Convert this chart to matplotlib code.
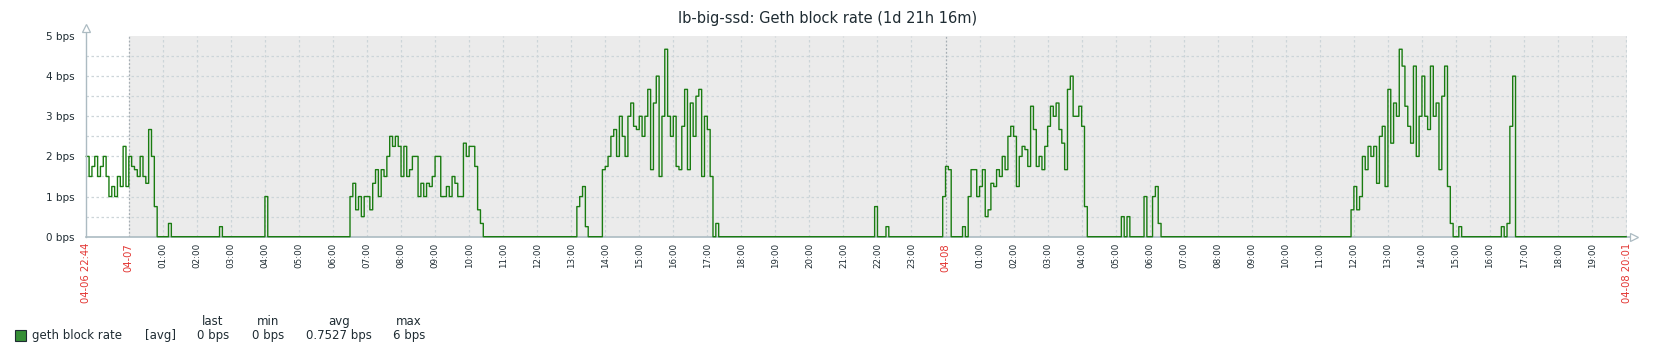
import numpy as np
import pandas as pd
import matplotlib
matplotlib.use('Agg')
from matplotlib import pyplot as plt
from matplotlib.patches import Rectangle

# geth block rate, 5 minute steps, one line per clock hour
rate_apr06 = [
    2.0, 1.5, 1.75,                                                  # 22:45-22:55
    2.0, 1.5, 1.75, 2.0, 1.5, 1.0, 1.25, 1.0, 1.5, 1.25, 2.25, 1.25,  # 23
]
rate_apr07 = [
    2.0, 1.75, 1.67, 1.5, 2.0, 1.5, 1.33, 2.67, 2.0, 0.75, 0, 0,      # 00
    0, 0, 0.33, 0, 0, 0, 0, 0, 0, 0, 0, 0,                           # 01
    0, 0, 0, 0, 0, 0, 0, 0, 0.25, 0, 0, 0,                           # 02
    0, 0, 0, 0, 0, 0, 0, 0, 0, 0, 0, 0,                              # 03
    1.0, 0, 0, 0, 0, 0, 0, 0, 0, 0, 0, 0,                            # 04
    0, 0, 0, 0, 0, 0, 0, 0, 0, 0, 0, 0,                              # 05
    0, 0, 0, 0, 0, 0, 1.0, 1.33, 0.67, 1.0, 0.5, 1.0,                # 06
    1.0, 0.67, 1.33, 1.67, 1.0, 1.67, 1.5, 2.0, 2.5, 2.25, 2.5, 2.25,  # 07
    1.5, 2.25, 1.5, 1.67, 2.0, 2.0, 1.0, 1.33, 1.0, 1.33, 1.25, 1.5,   # 08
    2.0, 2.0, 1.0, 1.0, 1.25, 1.0, 1.5, 1.33, 1.0, 1.0, 2.33, 2.0,     # 09
    2.25, 2.25, 1.75, 0.67, 0.33, 0, 0, 0, 0, 0, 0, 0,               # 10
    0, 0, 0, 0, 0, 0, 0, 0, 0, 0, 0, 0,                              # 11
    0, 0, 0, 0, 0, 0, 0, 0, 0, 0, 0, 0,                              # 12
    0, 0, 0.75, 1.0, 1.25, 0.25, 0, 0, 0, 0, 0, 1.67,                # 13
    1.75, 2.0, 2.5, 2.67, 2.0, 3.0, 2.5, 2.0, 3.0, 3.33, 2.75, 2.67,   # 14
    3.0, 2.5, 3.0, 3.67, 1.67, 3.33, 4.0, 1.5, 3.0, 4.67, 3.0, 2.5,    # 15
    3.0, 1.75, 1.67, 2.75, 3.67, 1.67, 3.33, 2.5, 3.5, 3.67, 1.5, 3.0,  # 16
    2.67, 1.5, 0, 0.33, 0, 0, 0, 0, 0, 0, 0, 0,                      # 17
    0, 0, 0, 0, 0, 0, 0, 0, 0, 0, 0, 0,                              # 18
    0, 0, 0, 0, 0, 0, 0, 0, 0, 0, 0, 0,                              # 19
    0, 0, 0, 0, 0, 0, 0, 0, 0, 0, 0, 0,                              # 20
    0, 0, 0, 0, 0, 0, 0, 0, 0, 0, 0, 0.75,                           # 21
    0, 0, 0, 0.25, 0, 0, 0, 0, 0, 0, 0, 0,                           # 22
    0, 0, 0, 0, 0, 0, 0, 0, 0, 0, 0, 1.0,                            # 23
]
rate_apr08 = [
    1.75, 1.67, 0, 0, 0, 0, 0.25, 0, 1.0, 1.67, 1.67, 1.0,           # 00
    1.25, 1.67, 0.5, 0.67, 1.33, 1.25, 1.67, 1.5, 2.0, 1.67, 2.5, 2.75,  # 01
    2.5, 1.25, 2.0, 2.25, 2.17, 1.75, 3.25, 2.67, 1.75, 2.0, 1.67, 2.25,  # 02
    2.75, 3.25, 3.0, 3.33, 2.67, 2.33, 1.67, 3.67, 4.0, 3.0, 3.0, 3.25,   # 03
    2.75, 0.75, 0, 0, 0, 0, 0, 0, 0, 0, 0, 0,                        # 04
    0, 0, 0.5, 0, 0.5, 0, 0, 0, 0, 0, 1.0, 0,                        # 05
    0, 1.0, 1.25, 0.33, 0, 0, 0, 0, 0, 0, 0, 0,                      # 06
    0, 0, 0, 0, 0, 0, 0, 0, 0, 0, 0, 0,                              # 07
    0, 0, 0, 0, 0, 0, 0, 0, 0, 0, 0, 0,                              # 08
    0, 0, 0, 0, 0, 0, 0, 0, 0, 0, 0, 0,                              # 09
    0, 0, 0, 0, 0, 0, 0, 0, 0, 0, 0, 0,                              # 10
    0, 0, 0, 0, 0, 0, 0, 0, 0, 0, 0, 0.67,                           # 11
    1.25, 0.67, 1.0, 2.0, 1.67, 2.25, 2.0, 2.25, 1.33, 2.5, 2.75, 1.25,   # 12
    3.67, 2.33, 3.33, 3.0, 4.67, 4.25, 3.25, 2.75, 2.33, 4.25, 2.0, 3.0,  # 13
    4.0, 3.0, 2.67, 4.25, 3.0, 3.33, 1.67, 3.5, 4.25, 1.25, 0.33, 0,      # 14
    0, 0.25, 0, 0, 0, 0, 0, 0, 0, 0, 0, 0,                           # 15
    0, 0, 0, 0, 0.25, 0, 0.33, 2.75, 4.0, 0, 0, 0,                   # 16
    0, 0, 0, 0, 0, 0, 0, 0, 0, 0, 0, 0,                              # 17
    0, 0, 0, 0, 0, 0, 0, 0, 0, 0, 0, 0,                              # 18
    0, 0, 0, 0, 0, 0, 0, 0, 0, 0, 0, 0,                              # 19
    0,                                                               # 20:00
]

title = 'lb-big-ssd: Geth block rate (1d 21h 16m)'
legend_name = 'geth block rate'
legend_cols = ['last', 'min', 'avg', 'max']
legend_vals = ['0 bps', '0 bps', '0.7527 bps', '6 bps']

rate = np.array(rate_apr06 + rate_apr07 + rate_apr08)
day0 = pd.Timestamp('2019-04-07 00:00')
times = pd.date_range('2019-04-06 22:45', periods=len(rate), freq='5min')
hours = np.asarray((times - day0) / pd.Timedelta(hours=1))
t_start = (pd.Timestamp('2019-04-06 22:44') - day0) / pd.Timedelta(hours=1)
t_end = (pd.Timestamp('2019-04-08 20:01') - day0) / pd.Timedelta(hours=1)

TEXT = '#1F2C33'
RED = '#E33734'
GRID = '#CCD5D9'
AXIS = '#ACBBC2'
GREEN = '#1A7C11'

W, H = 1658, 354
fig = plt.figure(figsize=(W / 100, H / 100), dpi=100)
x0, x1, y0, y1 = 85.7, 1626.7, 36.0, 236.7
ax = fig.add_axes([x0 / W, (H - y1) / H, (x1 - x0) / W, (y1 - y0) / H])
ax.set_xlim(t_start, t_end)
ax.set_ylim(0, 5)
for s in ax.spines.values():
    s.set_visible(False)

# non-working time shading
ax.axvspan(0, t_end, color='#EBEBEB', zorder=0, lw=0)

# grid
for v in np.arange(0.5, 5, 0.5):
    ax.axhline(v, color=GRID, lw=0.9, ls=(0, (2, 2)), zorder=1)
for h in range(0, 45):
    if h % 24 == 0:
        ax.axvline(h, color='#A6AEB4', lw=0.9, ls=(0, (1.5, 1.5)), zorder=1)
    else:
        ax.axvline(h, color=GRID, lw=0.9, ls=(0, (2, 2)), zorder=1)

ax.plot(hours, rate, drawstyle='steps-post', color=GREEN, lw=1.0, zorder=3, clip_on=False)

# axes with arrows
ax.plot([t_start, t_start], [0, 5.12], color=AXIS, lw=1, clip_on=False, zorder=4)
ax.plot([t_start], [5.2], marker='^', ms=6, mfc='white', mec=AXIS, mew=0.9, clip_on=False, zorder=4)
ax.plot([t_start, 44.15], [0, 0], color=AXIS, lw=1.2, clip_on=False, zorder=2)
ax.plot([44.23], [0], marker='>', ms=6, mfc='white', mec=AXIS, mew=0.9, clip_on=False, zorder=4)

# y ticks
ax.set_yticks(range(6))
ax.set_yticklabels([f'{v} bps' for v in range(6)], fontsize=7.5, color=TEXT)
ax.tick_params(axis='y', length=0, pad=8)

# x ticks
pos, labs, cols, sizes = [t_start], ['04-06 22:44'], [RED], [7.2]
for h in range(0, 45):
    if h == 0:
        pos.append(h); labs.append('04-07'); cols.append(RED); sizes.append(7.2)
    elif h == 24:
        pos.append(h); labs.append('04-08'); cols.append(RED); sizes.append(7.2)
    elif h < 44:
        pos.append(h); labs.append(f'{h % 24:02d}:00'); cols.append(TEXT); sizes.append(6.3)
pos.append(t_end); labs.append('04-08 20:01'); cols.append(RED); sizes.append(7.2)
ax.set_xticks(pos)
ax.set_xticklabels(labs, rotation=90, ha='center', va='top')
for lbl, c, s in zip(ax.get_xticklabels(), cols, sizes):
    lbl.set_color(c)
    lbl.set_fontsize(s)
ax.tick_params(axis='x', length=0, pad=4.5)

fig.text(828 / W, 1 - 18 / H, title, ha='center', va='center', fontsize=10.5, color=TEXT)

# legend
fig.add_artist(Rectangle((15 / W, 1 - 341 / H), 11 / W, 11 / H, transform=fig.transFigure,
                         facecolor='#368F36', edgecolor=TEXT, lw=0.8))
fig.text(32 / W, 1 - 335.7 / H, legend_name, ha='left', va='center', fontsize=8.5, color=TEXT)
fig.text(145 / W, 1 - 335.7 / H, '[avg]', ha='left', va='center', fontsize=8.5, color=TEXT)
for cx, c, v in zip([213, 268, 339, 409], legend_cols, legend_vals):
    fig.text(cx / W, 1 - 321.7 / H, c, ha='center', va='center', fontsize=8.5, color=TEXT)
    fig.text(cx / W, 1 - 335.7 / H, v, ha='center', va='center', fontsize=8.5, color=TEXT)

fig.savefig('out.png', dpi=100, facecolor='white')
